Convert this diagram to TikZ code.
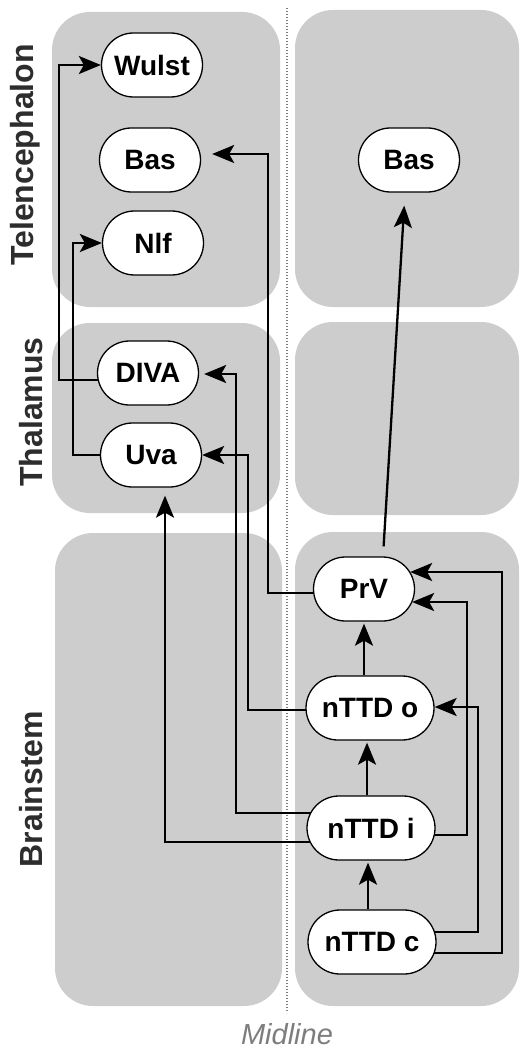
\documentclass[tikz,border=0pt]{standalone}
\usepackage{fontspec}
\setmainfont{Liberation Sans}
\usetikzlibrary{arrows.meta,shapes.misc}
\definecolor{panelgray}{RGB}{205,205,205}
\definecolor{labelgray}{RGB}{45,45,45}
\definecolor{midgray}{RGB}{125,125,125}
\pgfdeclarelayer{background}
\pgfdeclarelayer{edges}
\pgfsetlayers{background,edges,main}
\tikzset{
  panel/.style={fill=panelgray, draw=none, rounded corners=38pt},
  region/.style={rotate=90, anchor=base, text=labelgray, font=\bfseries\fontsize{32}{36}\selectfont, inner sep=0pt},
  nuc/.style={rounded rectangle, draw=black, line width=1.3pt, fill=white, minimum height=64pt, minimum width=101pt, inner sep=0pt, font=\bfseries\fontsize{28}{32}\selectfont},
  widenuc/.style={nuc, minimum width=128pt},
  conn/.style={line width=2.3pt, draw=black, -{Stealth[length=22pt,width=18pt,inset=5pt]}},
  midline/.style={midgray, line width=1.2pt, dash pattern=on 1.3pt off 1.7pt}
}
\begin{document}
\begin{tikzpicture}[x=1pt,y=-1pt]
\useasboundingbox (0,0) rectangle (519,1048);
% panels
\begin{pgfonlayer}{background}
\fill[panel] (52,12) rectangle (280,307);
\fill[panel] (295,10) rectangle (519,307);
\fill[panel] (52,323) rectangle (280,513);
\fill[panel] (295,322) rectangle (519,515);
\fill[panel] (55,533) rectangle (282,1006);
\fill[panel] (295,532) rectangle (519,1006);
\coordinate (mtop) at (287,8);
\coordinate (mbot) at (287,1013);
\draw[midline] (mtop) -- (mbot);
\end{pgfonlayer}
% region labels
\node[region] (tel) at (33,155) {Telencephalon};
\node[region] (tha) at (42,412) {Thalamus};
\node[region] (brs) at (42,789) {Brainstem};
\node[anchor=base, inner sep=0pt, text=midgray, font=\itshape\fontsize{29}{34}\selectfont] (mid) at (287,1044) {Midline};
% nuclei
\node[nuc] (Wulst) at (152,65) {Wulst};
\node[nuc] (BasL) at (150,160) {Bas};
\node[nuc] (Nlf) at (153,243) {Nlf};
\node[nuc] (DIVA) at (148,373) {DIVA};
\node[nuc] (Uva) at (151,455) {Uva};
\node[nuc] (BasR) at (409,160) {Bas};
\node[nuc] (PrV) at (364,589) {PrV};
\node[widenuc] (nTTDo) at (370,708) {nTTD o};
\node[widenuc] (nTTDi) at (371,828) {nTTD i};
\node[widenuc] (nTTDc) at (372,942) {nTTD c};
% connectors
\begin{pgfonlayer}{edges}
\draw[conn] ([yshift=-7pt]DIVA.center) -| ([xshift=-42pt]Wulst.west) -- (Wulst.west);
\draw[conn] (Uva.center) -| ([xshift=-29pt]Nlf.west) -- (Nlf.west);
\draw[conn, shorten >=11pt] ([yshift=-4pt]PrV.center) -| ([xshift=67pt,yshift=6pt]BasL.east) -- ([yshift=6pt]BasL.east);
\draw[conn] ([yshift=-2pt]nTTDo.center) -| ([xshift=46pt]Uva.east) -- (Uva.east);
\draw[conn, shorten >=5pt] ([yshift=15pt]nTTDi.center) -| ([xshift=37pt,yshift=-1pt]DIVA.east) -- ([yshift=-1pt]DIVA.east);
\draw[conn, shorten >=8pt] ([yshift=-14pt]nTTDi.center) -| ([xshift=14pt]Uva.south);
\draw[conn, shorten <=10pt, shorten >=13pt] ([xshift=19pt]PrV.north) -- ([xshift=-4pt]BasR.south);
\draw[conn, shorten >=2pt] (nTTDo.north -| PrV.south) -- (PrV.south);
\draw[conn, shorten >=2pt] ([xshift=-4pt]nTTDi.north) -- ([xshift=-4pt]nTTDi.north |- nTTDo.south);
\draw[conn, shorten >=2pt] ([xshift=-4pt]nTTDc.north) -- ([xshift=-4pt]nTTDc.north |- nTTDi.south);
\draw[conn] ([yshift=-7pt]nTTDi.center) -| ([xshift=52pt,yshift=-13pt]PrV.east) -- ([xshift=-3pt,yshift=-13pt]PrV.east);
\draw[conn] ([yshift=10pt]nTTDc.center) -| ([xshift=43pt,yshift=1pt]nTTDo.east) -- ([yshift=1pt]nTTDo.east);
\draw[conn] ([yshift=-11pt]nTTDc.center) -| ([xshift=87pt,yshift=17pt]PrV.east) -- ([xshift=-5pt,yshift=17pt]PrV.east);
\end{pgfonlayer}
\end{tikzpicture}
\end{document}
